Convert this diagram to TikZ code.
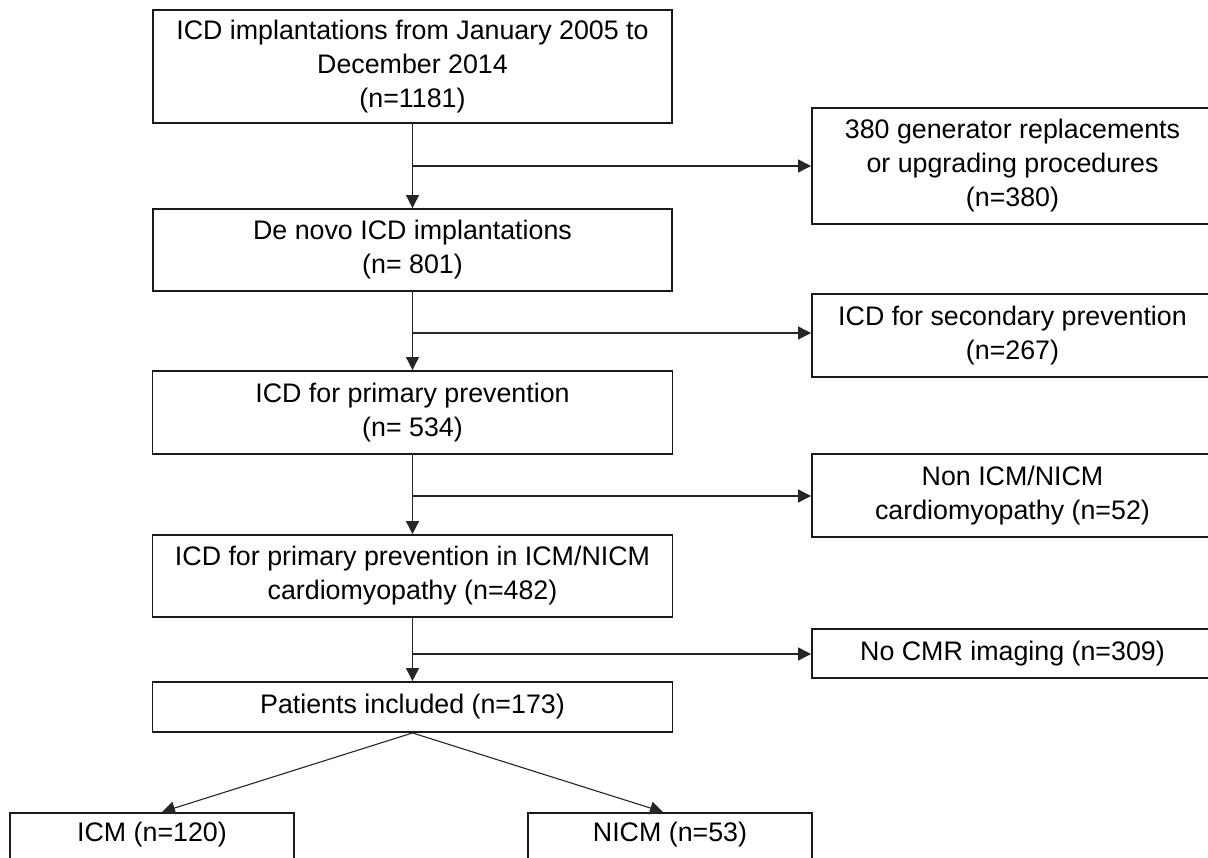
\documentclass[tikz,border=0pt]{standalone}
\usepackage{fontspec}
\setmainfont{Liberation Sans}
\usetikzlibrary{arrows.meta,calc}
\begin{document}
\begin{tikzpicture}[x=1pt,y=-1pt,
  box/.style={draw=black!90, line width=1.9pt, rectangle, inner sep=0pt, align=center,
    font=\fontsize{26.8}{34}\selectfont},
  arr/.style={draw=black!85, line width=1.1pt, -{Triangle[length=13pt,width=13pt]}}]
\useasboundingbox (0,0) rectangle (1208,858);
\clip (0,0) rectangle (1208,858);
\fill[white] (0,0) rectangle (1208,858);

\node[box, minimum width=519pt, minimum height=113pt] (b1) at (412.5,66.5)
  {ICD implantations from January 2005 to\\December 2014\\(n=1181)};
\node[box, minimum width=519pt, minimum height=82pt] (b2) at (412.5,250)
  {De novo ICD implantations\\(n= 801)};
\node[box, minimum width=520pt, minimum height=83pt] (b3) at (412.5,412.5)
  {ICD for primary prevention\\(n= 534)};
\node[box, minimum width=520pt, minimum height=82pt] (b4) at (412.5,576)
  {ICD for primary prevention in ICM/NICM\\cardiomyopathy (n=482)};
\node[box, minimum width=520pt, minimum height=50pt] (b5) at (412.5,707)
  {Patients included (n=173)};

\node[box, minimum width=401pt, minimum height=116pt] (r1) at (1012.5,166)
  {380 generator replacements\\or upgrading procedures\\(n=380)};
\node[box, minimum width=401pt, minimum height=83pt] (r2) at (1012.5,335.5)
  {ICD for secondary prevention\\(n=267)};
\node[box, minimum width=401pt, minimum height=83pt] (r3) at (1012.5,495.5)
  {Non ICM/NICM\\cardiomyopathy (n=52)};
\node[box, minimum width=401pt, minimum height=49pt] (r4) at (1012.5,653.5)
  {No CMR imaging (n=309)};

\node[box, anchor=north, minimum width=284pt, text height=19pt, text depth=40pt, inner ysep=10pt] (icm) at (152,812)
  {ICM (n=120)};
\node[box, anchor=north, minimum width=284pt, text height=19pt, text depth=40pt, inner ysep=10pt] (nicm) at (670,812)
  {NICM (n=53)};

\coordinate (j1) at (412.5,166);
\coordinate (j2) at (412.5,333);
\coordinate (j3) at (412.5,496);
\coordinate (j4) at (412.5,654);

\draw[arr] (b1.south) -- (b2.north);
\draw[arr] (b2.south) -- (b3.north);
\draw[arr] (b3.south) -- (b4.north);
\draw[arr] (b4.south) -- (b5.north);

\draw[arr] (j1) -- (j1 -| r1.west);
\draw[arr] (j2) -- (j2 -| r2.west);
\draw[arr] (j3) -- (j3 -| r3.west);
\draw[arr] (j4) -- (j4 -| r4.west);

\draw[arr] (b5.south) -- ($(icm.north)+(10,0)$);
\draw[arr] (b5.south) -- ($(nicm.north)+(-7,0)$);
\end{tikzpicture}
\end{document}
